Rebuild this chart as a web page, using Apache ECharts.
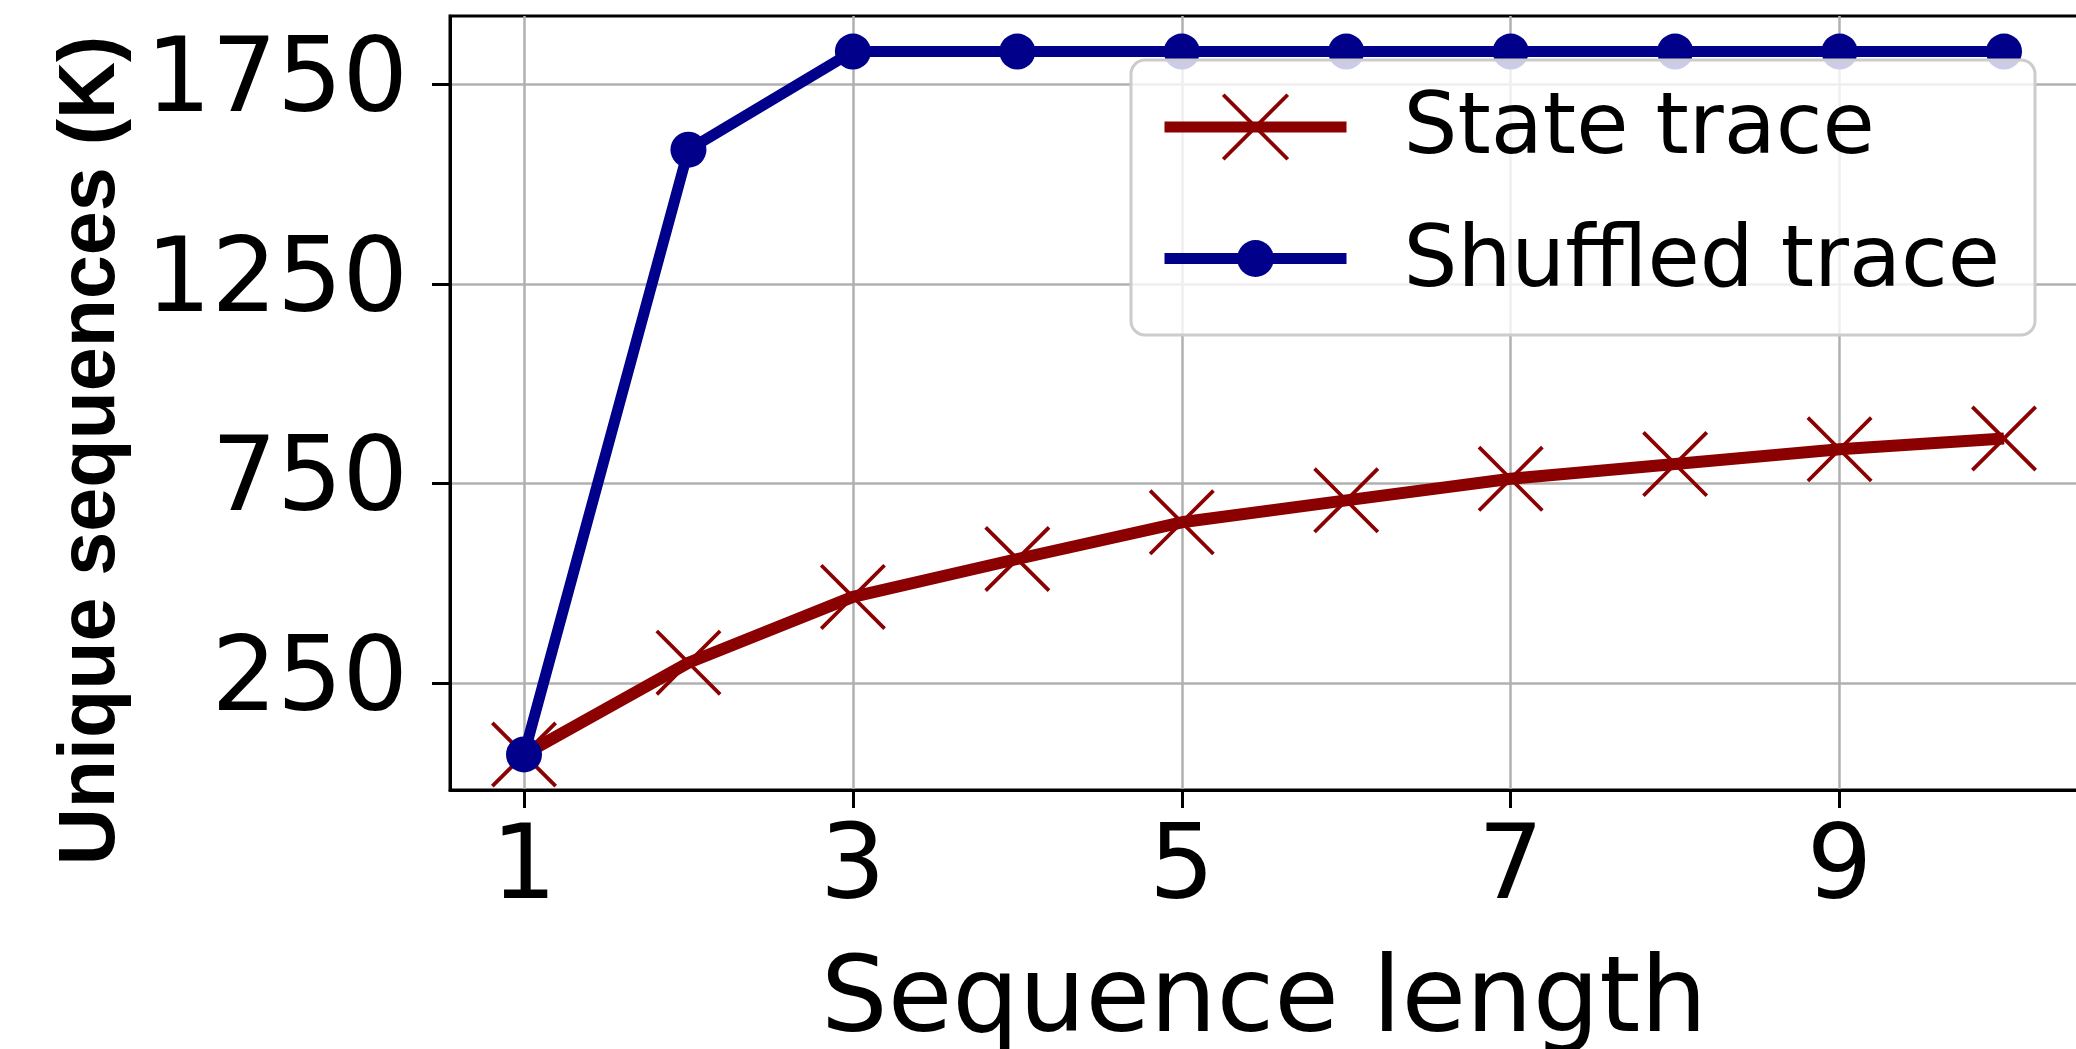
<!DOCTYPE html>
<html>
<head>
<meta charset="utf-8">
<script src="https://cdn.jsdelivr.net/npm/echarts@6/dist/echarts.min.js"></script>
<style>
html,body{margin:0;padding:0;background:#fff;}
#chart{width:2076px;height:1049px;}
</style>
</head>
<body>
<div id="chart"></div>
<script>
// ---- data ----
const seqLength = [1, 2, 3, 4, 5, 6, 7, 8, 9, 10];
const stateTrace = [71, 301, 466, 561, 653, 708, 762, 799, 836, 863];
const shuffledTrace = [71, 1587, 1833, 1833, 1833, 1833, 1833, 1833, 1833, 1833];
const xTicks = [1, 3, 5, 7, 9];
const yTicks = [250, 750, 1250, 1750];
const seriesNames = ['State trace', 'Shuffled trace'];

const RED = '#8B0000';
const BLUE = '#00008B';
const X_PATH = 'path://M0,4L4,0L50,46L96,0L100,4L54,50L100,96L96,100L50,54L4,100L0,96L46,50Z';

const chart = echarts.init(document.getElementById('chart'));
const tickFont = {fontFamily: 'DejaVu Sans', fontSize: 103, color: '#000'};
const legendText = (padTop) => ({
  fontFamily: 'DejaVu Sans', fontSize: 85, color: '#000', padding: [0, 0, 0, 52],
  rich: {t: {fontFamily: 'DejaVu Sans', fontSize: 85, color: '#000', padding: [padTop, 0, 0, 0]}}
});

chart.setOption({
  animation: false,
  backgroundColor: '#fff',
  grid: {
    left: 450, top: 16, right: -2, bottom: 259,
    outerBoundsMode: 'none', containLabel: false,
    show: true, borderColor: '#000', borderWidth: 3, backgroundColor: 'transparent'
  },
  xAxis: {
    type: 'value', min: 0.55, max: 10.45,
    name: 'Sequence length', nameLocation: 'middle', nameGap: 161,
    nameTextStyle: {fontFamily: 'DejaVu Sans', fontSize: 105, color: '#000'},
    axisLine: {show: true, onZero: false, lineStyle: {color: '#000', width: 3}},
    axisTick: {show: true, length: 18, lineStyle: {color: '#000', width: 3}, customValues: xTicks},
    axisLabel: Object.assign({margin: 30, customValues: xTicks, formatter: v => String(v)}, tickFont),
    splitLine: {show: true, lineStyle: {color: '#b0b0b0', width: 2.5}}
  },
  yAxis: {
    type: 'value', min: -18, max: 1922,
    name: 'Unique sequences (K)', nameLocation: 'middle', nameRotate: 90, nameGap: 318,
    nameTextStyle: {fontFamily: 'Liberation Sans', fontWeight: 'bold', fontSize: 79, color: '#000', padding: [0, 95, 0, 0]},
    axisLine: {show: true, lineStyle: {color: '#000', width: 3}},
    axisTick: {show: true, length: 18, lineStyle: {color: '#000', width: 3}, customValues: yTicks},
    axisLabel: Object.assign({margin: 42, customValues: yTicks, formatter: v => String(v)}, tickFont),
    splitLine: {show: true, lineStyle: {color: '#b0b0b0', width: 2.5}}
  },
  legend: [
    {
      data: [seriesNames[0]], left: 1159, top: 88.5, padding: 0, z: 6,
      itemWidth: 182, itemHeight: 84, selectedMode: false,
      lineStyle: {width: 11},
      formatter: '{t|{name}}',
      textStyle: legendText(8)
    },
    {
      data: [seriesNames[1]], left: 1159, top: 221, padding: 0, z: 6,
      itemWidth: 182, itemHeight: 46, selectedMode: false,
      lineStyle: {width: 11},
      formatter: '{t|{name}}',
      textStyle: legendText(10)
    }
  ],
  graphic: [{
    type: 'rect', z: 5,
    shape: {x: 1131, y: 60, width: 904, height: 275, r: 14},
    style: {fill: 'rgba(255,255,255,0.8)', stroke: '#cccccc', lineWidth: 3}
  }],
  series: [
    {
      name: seriesNames[0], type: 'line',
      data: seqLength.map((x, i) => [x, stateTrace[i]]),
      symbol: X_PATH, symbolSize: 66,
      lineStyle: {color: RED, width: 12},
      itemStyle: {color: RED},
      z: 3
    },
    {
      name: seriesNames[1], type: 'line',
      data: seqLength.map((x, i) => [x, shuffledTrace[i]]),
      symbol: 'circle', symbolSize: 36,
      lineStyle: {color: BLUE, width: 11},
      itemStyle: {color: BLUE},
      z: 4
    }
  ]
});
</script>
</body>
</html>
